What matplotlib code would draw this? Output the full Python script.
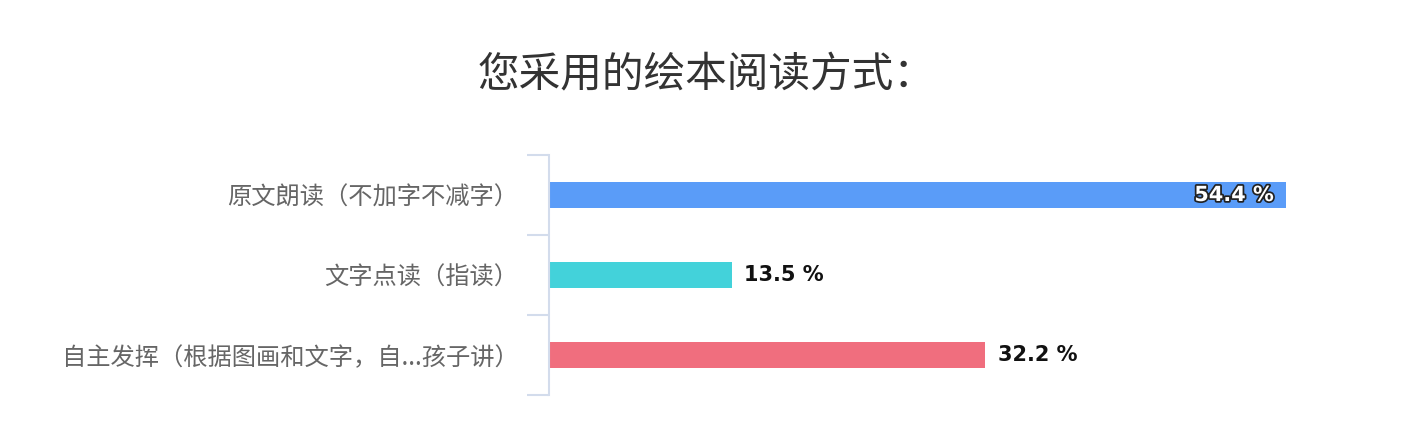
import matplotlib
matplotlib.use("Agg")
import matplotlib.pyplot as plt
import matplotlib.patheffects as pe

plt.rcParams['font.family'] = ['Noto Sans CJK SC', 'DejaVu Sans']

title = "您采用的绘本阅读方式："
categories = ["原文朗读（不加字不减字）", "文字点读（指读）", "自主发挥（根据图画和文字，自...孩子讲）"]
values = [54.4, 13.5, 32.2]
colors = ["#5a9cf8", "#43d2da", "#f06e7e"]

W, H = 1420, 448
fig = plt.figure(figsize=(W / 100, H / 100), dpi=100)
ax_left, ax_right = 549, 1362
ax_top, ax_bot = 155, 395
ax = fig.add_axes([ax_left / W, 1 - ax_bot / H, (ax_right - ax_left) / W, (ax_bot - ax_top) / H])

y = list(range(len(categories)))
ax.barh(y, values, height=0.325, color=colors, zorder=2)
ax.set_xlim(0, 60)
ax.set_ylim(len(categories) - 0.5, -0.5)

for s in ["top", "right", "bottom"]:
    ax.spines[s].set_visible(False)
ax.spines["left"].set_color("#d3dcec")
ax.spines["left"].set_linewidth(1.5)
ax.set_xticks([])
ax.set_yticks(y)
ax.set_yticklabels(categories, fontsize=17.5, color="#666666")
ax.tick_params(axis="y", which="major", length=0, pad=22)
ax.set_yticks([i - 0.5 for i in range(len(categories) + 1)], minor=True)
ax.tick_params(axis="y", which="minor", length=16, width=1.5, color="#d3dcec", direction="out")

max_v = max(values)
for i, v in enumerate(values):
    lab = f"{v} %"
    if v == max_v:
        ax.text(v - 0.9, i, lab, ha="right", va="center", fontsize=15, fontweight="bold",
                family="DejaVu Sans", color="white", zorder=3,
                path_effects=[pe.withStroke(linewidth=2.5, foreground="#222222")])
    else:
        ax.text(v + 0.9, i, lab, ha="left", va="center", fontsize=15, fontweight="bold",
                family="DejaVu Sans", color="#111111", zorder=3)

fig.text(0.4975, 1 - 76 / H, title, ha="center", va="center", fontsize=30, color="#333333")

fig.savefig("out.png", dpi=100)
